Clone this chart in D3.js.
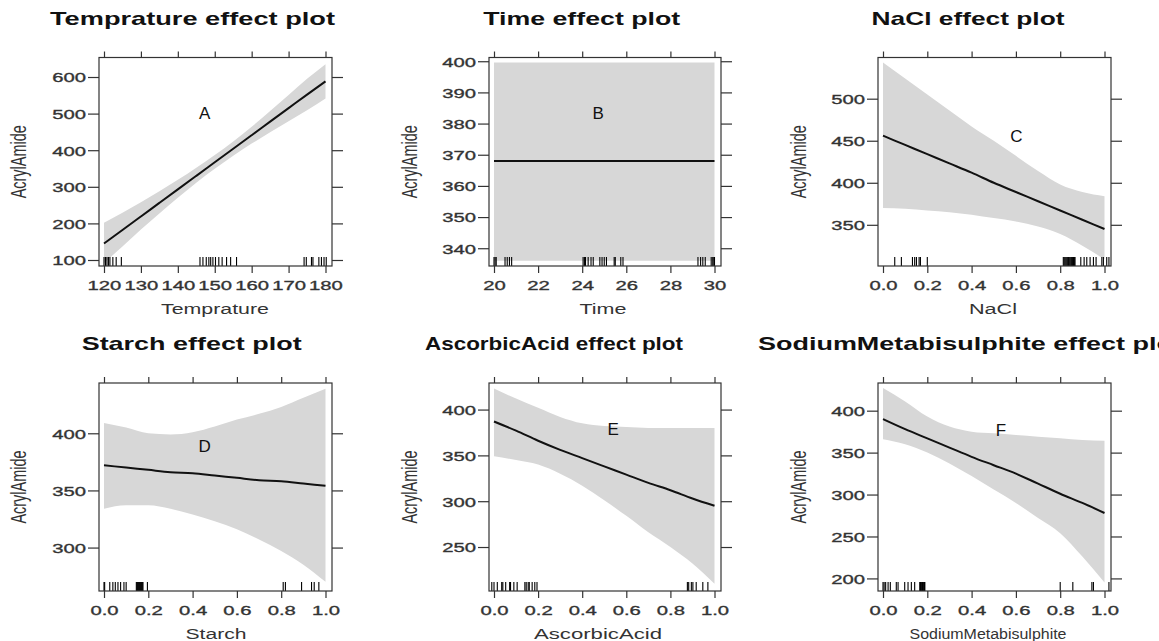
<!DOCTYPE html>
<html>
<head>
<meta charset="utf-8">
<script src="https://cdn.jsdelivr.net/npm/d3@7"></script>
<style>
  body { margin: 0; background: #fff; }
  text { font-family: "Liberation Sans", Arial, sans-serif; }
</style>
</head>
<body>
<svg id="chart" width="1159" height="641"></svg>
<script>
// ---- values ----
const tempX     = [120, 125, 130, 135, 140, 145, 150, 155, 160, 165, 170, 175, 180];
const tempFit   = [145, 182, 219, 256, 293, 330, 367, 404, 441, 478, 515, 552, 588];
const tempLower = [92, 137, 183, 227, 270, 311, 349, 385, 418, 449, 479, 509, 541];
const tempUpper = [202, 229, 258, 288, 319, 352, 387, 424, 464, 507, 551, 595, 635];
const tempRug   = [120, 120.4, 120.8, 121.2, 121.6, 122.4, 123.3, 124.7, 146, 146.8, 147.7, 148.4, 148.9,
                   149.5, 150.2, 151.1, 152, 153.2, 154.3, 155.9, 174.2, 174.8, 176.2, 176.6, 178.2, 178.9, 179.6, 180.2];

const timeX     = [20, 30];
const timeFit   = [368, 368];
const timeLower = [336, 336];
const timeUpper = [399.6, 399.6];
const timeRug   = [20, 20.05, 20.1, 20.5, 20.6, 20.7, 20.8, 24.04, 24.1, 24.15, 24.27, 24.4, 24.5, 24.8, 24.9,
                   25, 25.1, 25.45, 25.5, 25.75, 25.85, 29.25, 29.37, 29.47, 29.58, 29.85, 29.92, 29.97, 30];

const unitX = [0, 0.1, 0.2, 0.3, 0.4, 0.5, 0.6, 0.7, 0.8, 0.9, 1.0];

const naclFit   = [456, 445, 434, 423, 412, 400, 389, 378, 367, 356, 345];
const naclLower = [370, 369, 367, 365, 362, 358, 354, 348, 339, 325, 309];
const naclUpper = [543, 524, 505, 486, 467, 450, 432, 414, 398, 389, 384];
const naclRug   = [0.053, 0.083, 0.133, 0.143, 0.151, 0.163, 0.169, 0.2, 0.814, 0.818, 0.822, 0.826, 0.83, 0.834,
                   0.837, 0.841, 0.845, 0.849, 0.852, 0.856, 0.86, 0.864, 0.867, 0.893, 0.908, 0.92, 0.935, 0.95,
                   0.962, 0.988, 0.995, 1.01, 1.02];

const starchFit   = [372, 370, 368, 366, 365, 363, 361, 359, 358, 356, 354];
const starchLower = [334, 337, 337, 334, 329, 323, 316, 307, 297, 285, 270];
const starchUpper = [409, 405, 400, 399, 401, 406, 412, 417, 423, 431, 439];
const starchRug   = [0, 0.003, 0.026, 0.04, 0.051, 0.063, 0.075, 0.09, 0.1, 0.146, 0.149, 0.152, 0.155, 0.158,
                     0.161, 0.164, 0.167, 0.17, 0.173, 0.176, 0.196, 0.809, 0.819, 0.892, 0.937, 0.949, 0.97];

const acidFit   = [387, 377, 366, 356, 347, 338, 329, 320, 312, 303, 295];
const acidLower = [349, 345, 340, 330, 317, 301, 284, 266, 250, 232, 210];
const acidUpper = [423, 412, 402, 392, 385, 382, 381, 380, 380, 380, 380];
const acidRug   = [-0.01, 0, 0.015, 0.035, 0.04, 0.053, 0.071, 0.075, 0.09, 0.105, 0.14, 0.146, 0.155, 0.16,
                   0.173, 0.185, 0.195, 0.877, 0.883, 0.895, 0.902, 0.917, 0.947, 0.97];

const smbFit   = [390, 378, 367, 356, 345, 335, 325, 313, 301, 290, 278];
const smbLower = [366, 360, 350, 337, 322, 306, 290, 272, 254, 226, 195];
const smbUpper = [427, 411, 393, 381, 375, 373, 371, 369, 367, 365, 364];
const smbRug   = [0, 0.005, 0.012, 0.023, 0.033, 0.06, 0.068, 0.098, 0.113, 0.128, 0.143, 0.166, 0.169, 0.172,
                  0.175, 0.178, 0.181, 0.184, 0.187, 0.189, 0.8, 0.857, 0.943, 0.95, 1.02];

// axis limits and ticks
const tempYRange   = [83.6, 653.3];
const timeYRange   = [334.3, 401.2];
const naclYRange   = [301, 549];
const starchYRange = [262, 444];
const acidYRange   = [202, 429];
const smbYRange    = [185, 433];

const tempXTicks = [120, 130, 140, 150, 160, 170, 180];
const timeXTicks = [20, 22, 24, 26, 28, 30];
const unitXTicks = [0, 0.2, 0.4, 0.6, 0.8, 1.0];

const tempYTicks   = [100, 200, 300, 400, 500, 600];
const timeYTicks   = [340, 350, 360, 370, 380, 390, 400];
const naclYTicks   = [350, 400, 450, 500];
const starchYTicks = [300, 350, 400];
const acidYTicks   = [250, 300, 350, 400];
const smbYTicks    = [200, 250, 300, 350, 400];

const titles  = ["Temprature effect plot", "Time effect plot", "NaCl effect plot",
                 "Starch effect plot", "AscorbicAcid effect plot", "SodiumMetabisulphite effect plot"];
const xLabels = ["Temprature", "Time", "NaCl", "Starch", "AscorbicAcid", "SodiumMetabisulphite"];
const yLabel  = "AcrylAmide";
const tags    = ["A", "B", "C", "D", "E", "F"];
const tagPos  = [[147.3, 501], [24.73, 383.5], [0.602, 456], [0.454, 389], [0.54, 378.5], [0.533, 377]];

// ---- layout ----
const SX = 1.5;   // the picture is stretched sideways
const cols = [
  {left: 99,  right: 332,  yLabelX: 18},
  {left: 489, right: 721,  yLabelX: 409},
  {left: 878, right: 1111, yLabelX: 798}
];
const rows = [
  {top: 57.5, bottom: 266, titleY: 25},
  {top: 383,  bottom: 591, titleY: 350}
];
const titleLayout = [
  {x: 192.5, anchor: "middle", len: 285}, {x: 581.7, anchor: "middle", len: 197},
  {x: 968,   anchor: "middle", len: 193}, {x: 191.7, anchor: "middle", len: 220},
  {x: 554,   anchor: "middle", len: 258}, {x: 758,   anchor: "start",  len: 424}
];
const xLabelLayout = [
  {x: 215, len: 108}, {x: 603, len: 47}, {x: 993, len: 48},
  {x: 216, len: 61},  {x: 598, len: 128}, {x: 988, len: 157}
];

const panels = [
  {x: tempX, fit: tempFit, lower: tempLower, upper: tempUpper, rug: tempRug,
   xDom: [120, 180], xTicks: tempXTicks, xFmt: d3.format("d"), yDom: tempYRange, yTicks: tempYTicks},
  {x: timeX, fit: timeFit, lower: timeLower, upper: timeUpper, rug: timeRug,
   xDom: [20, 30], xTicks: timeXTicks, xFmt: d3.format("d"), yDom: timeYRange, yTicks: timeYTicks},
  {x: unitX, fit: naclFit, lower: naclLower, upper: naclUpper, rug: naclRug,
   xDom: [0, 1], xTicks: unitXTicks, xFmt: d3.format(".1f"), yDom: naclYRange, yTicks: naclYTicks},
  {x: unitX, fit: starchFit, lower: starchLower, upper: starchUpper, rug: starchRug,
   xDom: [0, 1], xTicks: unitXTicks, xFmt: d3.format(".1f"), yDom: starchYRange, yTicks: starchYTicks},
  {x: unitX, fit: acidFit, lower: acidLower, upper: acidUpper, rug: acidRug,
   xDom: [0, 1], xTicks: unitXTicks, xFmt: d3.format(".1f"), yDom: acidYRange, yTicks: acidYTicks},
  {x: unitX, fit: smbFit, lower: smbLower, upper: smbUpper, rug: smbRug,
   xDom: [0, 1], xTicks: unitXTicks, xFmt: d3.format(".1f"), yDom: smbYRange, yTicks: smbYTicks}
];

const svg = d3.select("#chart");
svg.append("rect").attr("width", 1159).attr("height", 641).attr("fill", "#fff");

// slightly heavier gray text, like the blurred original
const heavy = sel => sel.attr("fill", "#333").attr("stroke", "#333").attr("stroke-width", 0.35);

panels.forEach((p, i) => {
  const col = cols[i % 3], row = rows[Math.floor(i / 3)];
  const x = d3.scaleLinear().domain(p.xDom).range([col.left + 5, col.right - 6.5]);
  const y = d3.scaleLinear().domain(p.yDom).range([row.bottom, row.top]);
  const g = svg.append("g");
  const rows3 = d3.zip(p.x, p.fit, p.lower, p.upper);

  const clipId = "clip" + i;
  svg.append("clipPath").attr("id", clipId)
    .append("rect")
    .attr("x", col.left).attr("y", row.top)
    .attr("width", col.right - col.left).attr("height", row.bottom - row.top);

  const inner = g.append("g").attr("clip-path", `url(#${clipId})`);

  inner.append("path").datum(rows3)
    .attr("fill", "#d7d7d7")
    .attr("d", d3.area()
      .curve(d3.curveMonotoneX)
      .x(d => x(d[0])).y0(d => y(d[2])).y1(d => y(d[3])));

  inner.append("path").datum(rows3)
    .attr("fill", "none")
    .attr("stroke", "#111")
    .attr("stroke-width", 2)
    .attr("d", d3.line()
      .curve(d3.curveMonotoneX)
      .x(d => x(d[0])).y(d => y(d[1])));

  inner.selectAll("line.rug").data(p.rug).join("line")
    .attr("class", "rug")
    .attr("x1", d => x(d)).attr("x2", d => x(d))
    .attr("y1", row.bottom).attr("y2", row.bottom - 9)
    .attr("stroke", "#000").attr("stroke-width", 1.1);

  g.append("rect")
    .attr("x", col.left).attr("y", row.top)
    .attr("width", col.right - col.left).attr("height", row.bottom - row.top)
    .attr("fill", "none").attr("stroke", "#333").attr("stroke-width", 1.2);

  // axes, lattice style: ticks on all sides, labels left and bottom
  const styleAxis = sel => {
    sel.select(".domain").remove();
    sel.selectAll("line").attr("stroke", "#333").attr("stroke-width", 1.2);
    sel.attr("font-family", null).attr("font-size", null);
  };

  g.append("g").attr("transform", `translate(0,${row.bottom})`)
    .call(d3.axisBottom(x).tickValues(p.xTicks).tickSize(7).tickFormat(p.xFmt))
    .call(styleAxis)
    .call(a => a.selectAll("text")
      .attr("y", 24).attr("dy", null)
      .attr("transform", `scale(${SX},1)`)
      .attr("font-size", 13.5).call(heavy));

  g.append("g").attr("transform", `translate(0,${row.top})`)
    .call(d3.axisTop(x).tickValues(p.xTicks).tickSize(6).tickFormat(""))
    .call(styleAxis);

  g.append("g").attr("transform", `translate(${col.left},0)`)
    .call(d3.axisLeft(y).tickValues(p.yTicks).tickSize(11).tickFormat(d3.format("d")))
    .call(styleAxis)
    .call(a => a.selectAll("text")
      .attr("x", -13 / SX).attr("dy", "0.36em")
      .attr("transform", `scale(${SX},1)`)
      .attr("font-size", 13.5).call(heavy));

  g.append("g").attr("transform", `translate(${col.right},0)`)
    .call(d3.axisRight(y).tickValues(p.yTicks).tickSize(11).tickFormat(""))
    .call(styleAxis);

  // title
  const t = titleLayout[i];
  g.append("text")
    .attr("x", t.x).attr("y", row.titleY)
    .attr("text-anchor", t.anchor)
    .attr("font-size", 19).attr("font-weight", "bold").attr("fill", "#111")
    .attr("textLength", t.len).attr("lengthAdjust", "spacingAndGlyphs")
    .text(titles[i]);

  // x label
  const xl = xLabelLayout[i];
  g.append("text")
    .attr("x", xl.x).attr("y", row.bottom + 48)
    .attr("text-anchor", "middle")
    .attr("font-size", 15.5).attr("fill", "#333")
    .attr("textLength", xl.len).attr("lengthAdjust", "spacingAndGlyphs")
    .text(xLabels[i]);

  // y label
  g.append("text")
    .attr("transform", `translate(${col.yLabelX},${(row.top + row.bottom) / 2}) scale(${SX},1) rotate(-90)`)
    .attr("text-anchor", "middle").attr("dy", "0.35em")
    .attr("font-size", 14.5).attr("fill", "#333")
    .text(yLabel);

  // panel letter
  g.append("text")
    .attr("x", x(tagPos[i][0])).attr("y", y(tagPos[i][1]))
    .attr("text-anchor", "middle").attr("dy", "0.36em")
    .attr("font-family", "'Open Sans', 'Noto Sans', sans-serif")
    .attr("font-size", 17).attr("fill", "#111")
    .text(tags[i]);
});
</script>
</body>
</html>
